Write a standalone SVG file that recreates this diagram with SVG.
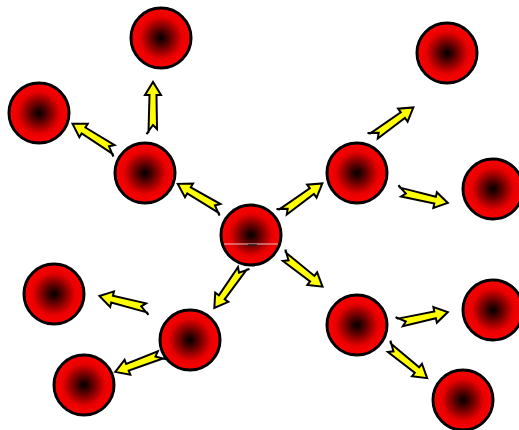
<svg xmlns="http://www.w3.org/2000/svg" width="519" height="430" viewBox="0 0 519 430">
<style>
.ball{fill:url(#rg);stroke:#000;stroke-width:3}
.arr{fill:#ffff00;stroke:#000;stroke-width:2;stroke-linejoin:miter}
</style>
<defs>
<radialGradient id="rg" cx="0.5" cy="0.5" r="0.5">
<stop offset="0" stop-color="#000"/>
<stop offset="0.25" stop-color="#500000"/>
<stop offset="0.7" stop-color="#e80000"/>
<stop offset="1" stop-color="#ff0000"/>
</radialGradient>
<path id="a" d="M0,-4.5 L37,-3.5 L37,-8 L50,0 L37,8 L37,3.5 L3,4 L7,0 L-2,-6.5 Z"/>
</defs>
<g id="connectors">
<use href="#a" class="arr" transform="translate(221,209) rotate(210.2)"/>
<use href="#a" class="arr" transform="translate(282,213) rotate(-36.2)"/>
<use href="#a" class="arr" transform="translate(243,267) rotate(125)"/>
<use href="#a" class="arr" transform="translate(283,256) rotate(37.8)"/>
<use href="#a" class="arr" transform="translate(153,132) rotate(-90)"/>
<use href="#a" class="arr" transform="translate(115,150) rotate(211.8)"/>
<use href="#a" class="arr" transform="translate(373,137) rotate(-36.2)"/>
<use href="#a" class="arr" transform="translate(399,192) rotate(12.65)"/>
<use href="#a" class="arr" transform="translate(148,308) rotate(193.8)"/>
<use href="#a" class="arr" transform="translate(162,354) rotate(159)"/>
<use href="#a" class="arr" transform="translate(399,323) rotate(-12.65)"/>
<use href="#a" class="arr" transform="translate(388,347) rotate(38.5)"/>
</g>
<g id="n-center"><circle class="ball" cx="251" cy="235" r="30"/><line x1="224" y1="244" x2="278" y2="244" stroke="#f4c0c0" stroke-width="1"/><line x1="248" y1="245" x2="257" y2="245" stroke="#222" stroke-width="1.5"/></g>
<g id="n-top"><circle class="ball" cx="161" cy="38" r="30"/></g>
<g id="n-upleft"><circle class="ball" cx="39" cy="113" r="30"/></g>
<g id="n-leftmid"><circle class="ball" cx="145" cy="173" r="30"/></g>
<g id="n-rightmid"><circle class="ball" cx="357" cy="173" r="30"/></g>
<g id="n-topright"><circle class="ball" cx="447" cy="53" r="30"/></g>
<g id="n-right"><circle class="ball" cx="493" cy="189" r="30"/></g>
<g id="n-lowleft"><circle class="ball" cx="54" cy="294" r="30"/></g>
<g id="n-lowmid"><circle class="ball" cx="190" cy="340" r="30"/></g>
<g id="n-bottomleft"><circle class="ball" cx="84" cy="385" r="30"/></g>
<g id="n-lowrightmid"><circle class="ball" cx="357" cy="325" r="30"/></g>
<g id="n-rightlow"><circle class="ball" cx="493" cy="310" r="30"/></g>
<g id="n-bottomright"><circle class="ball" cx="463" cy="400" r="30"/></g>
</svg>
